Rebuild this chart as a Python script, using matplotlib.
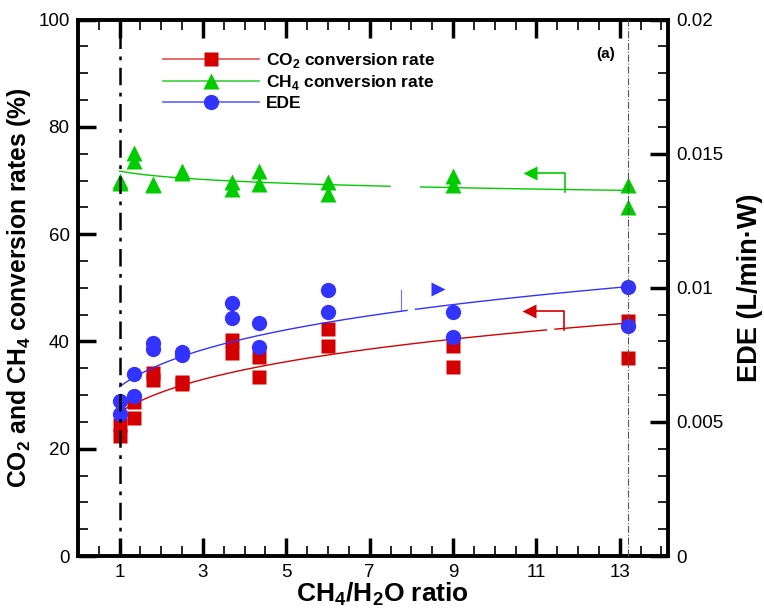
import numpy as np
import matplotlib
matplotlib.use("Agg")
import matplotlib.pyplot as plt
from matplotlib.lines import Line2D
from matplotlib.ticker import MultipleLocator, FixedLocator, FixedFormatter

plt.rcParams['font.family'] = ['Liberation Sans', 'DejaVu Sans']
plt.rcParams['mathtext.fontset'] = 'custom'
plt.rcParams['mathtext.rm'] = 'Liberation Sans'
plt.rcParams['mathtext.bf'] = 'Liberation Sans:bold'

# CH4/H2O ratio of each run (two runs per ratio)
ratio = np.array([1, 1, 1.35, 1.35, 1.8, 1.8, 2.5, 2.5, 3.7, 3.7,
                  4.35, 4.35, 6, 6, 9, 9, 13.2, 13.2])
# conversion rates (%)
co2_conv = np.array([24.5, 22.4, 28.8, 25.8, 34.1, 32.8, 32.4, 32.0, 40.3, 37.9,
                     37.1, 33.4, 42.4, 39.1, 39.1, 35.2, 43.9, 37.0])
ch4_conv = np.array([69.9, 69.5, 75.2, 73.7, 69.4, 69.1, 71.7, 71.4, 69.8, 68.4,
                     71.8, 69.3, 69.7, 67.5, 70.9, 69.1, 69.1, 65.1])
# energy efficiency (L/min.W)
ede = np.array([0.00578, 0.0053, 0.00678, 0.00598, 0.00796, 0.0077, 0.0076, 0.00748,
                0.00942, 0.00888, 0.00868, 0.00778, 0.0099, 0.00908, 0.0091, 0.00818,
                0.01002, 0.00858])

RED = '#d40000'
GREEN = '#00cc00'
BLUE = '#3333ff'


def power_fit(x, y):
    # y = a * x^b, fitted in log-log space
    b, ln_a = np.polyfit(np.log(x), np.log(y), 1)
    return np.exp(ln_a), b


def fit_curve(x, y, gap):
    a, b = power_fit(x, y)
    xs = np.linspace(x.min(), x.max(), 300)
    ys = a * xs ** b
    ys[(xs > gap[0]) & (xs < gap[1])] = np.nan
    return xs, ys


fig, ax = plt.subplots(figsize=(7.64, 6.12), dpi=100)
fig.subplots_adjust(left=0.102, right=0.874, bottom=0.0915, top=0.968)
ax2 = ax.twinx()

# trend lines
xs, ys = fit_curve(ratio, co2_conv, (11.27, 11.44))
ax.plot(xs, ys, color=RED, lw=1.0, zorder=2)
xs, ys = fit_curve(ratio, ch4_conv, (7.52, 8.2))
ax.plot(xs, ys, color=GREEN, lw=1.0, zorder=2)
xs, ys = fit_curve(ratio, ede, (7.91, 8.08))
ax2.plot(xs, ys, color=BLUE, lw=1.0, zorder=2)

# measured points
ax.plot(ratio, co2_conv, 's', color=RED, ms=9.5, mec='none', zorder=3)
ax.plot(ratio, ch4_conv, '^', color=GREEN, ms=11, mec='none', zorder=3)
ax2.plot(ratio, ede, 'o', color=BLUE, ms=11, mec='none', zorder=3)

# arrows pointing each curve to its axis
ax.plot([11.68, 11.68, 10.99], [67.9, 71.4, 71.4], color=GREEN, lw=1.2)
ax.plot([10.85], [71.4], '<', color=GREEN, ms=10, mec='none')
ax.plot([11.66, 11.66, 10.96], [42.1, 45.7, 45.7], color=RED, lw=1.2)
ax.plot([10.81], [45.7], '<', color=RED, ms=10, mec='none')
ax2.plot([7.74, 7.74], [0.00914, 0.00992], color=BLUE, lw=0.8, alpha=0.7)
ax2.plot([8.65], [0.00994], '>', color=BLUE, ms=10, mec='none')

# reference lines at the lowest and highest ratios
ax2.axvline(1, color='black', lw=1.8, ls=(0, (7, 3, 1.5, 3)), zorder=5)
ax2.axvline(13.2, color='#555555', lw=0.8, ls='-.', zorder=5)

ax.set_xlim(0, 14.15)
ax.set_ylim(0, 100)
ax2.set_ylim(0, 0.02)

ax.xaxis.set_major_locator(FixedLocator([1, 3, 5, 7, 9, 11, 13]))
ax.xaxis.set_minor_locator(MultipleLocator(0.5))
ax.yaxis.set_major_locator(MultipleLocator(20))
ax.yaxis.set_minor_locator(MultipleLocator(5))
ax2.yaxis.set_major_locator(FixedLocator([0, 0.005, 0.01, 0.015, 0.02]))
ax2.yaxis.set_major_formatter(FixedFormatter(['0', '0.005', '0.01', '0.015', '0.02']))
ax2.yaxis.set_minor_locator(MultipleLocator(0.001))

ax.tick_params(which='both', direction='in', top=True, right=False, labelsize=13.5)
ax.tick_params(which='major', length=13, width=2.5, pad=6)
ax.tick_params(which='minor', length=7, width=1.2)
ax2.tick_params(which='both', direction='in', labelsize=13.5)
ax2.tick_params(which='major', length=13, width=2.5, pad=6)
ax2.tick_params(which='minor', length=7, width=1.2)
for sp in ax2.spines.values():
    sp.set_linewidth(2.8)

ax.set_xlabel('CH$_\\mathbf{4}$/H$_\\mathbf{2}$O ratio', fontsize=19, fontweight='bold')
ax.xaxis.set_label_coords(0.517, -0.046)
ax.set_ylabel('CO$_\\mathbf{2}$ and CH$_\\mathbf{4}$ conversion rates (%)', fontsize=17.7,
              fontweight='bold', labelpad=4)
ax2.set_ylabel('EDE (L/min\u00b7W)', fontsize=19.5, fontweight='bold', labelpad=10)

ax.text(0.895, 0.935, '(a)', transform=ax.transAxes, fontsize=11, fontweight='bold',
        ha='center', va='center')

handles = [
    Line2D([], [], color='#e05050', lw=1.2, marker='s', ms=9.5, mfc=RED, mec='none'),
    Line2D([], [], color='#40d040', lw=1.2, marker='^', ms=11, mfc=GREEN, mec='none'),
    Line2D([], [], color='#6060ff', lw=1.2, marker='o', ms=11, mfc=BLUE, mec='none'),
]
labels = ['CO$_\\mathbf{2}$ conversion rate', 'CH$_\\mathbf{4}$ conversion rate', 'EDE']
leg = ax2.legend(handles, labels, loc='upper left', bbox_to_anchor=(0.133, 0.955),
                 frameon=False, handlelength=5.5, handletextpad=0.4, labelspacing=0.2,
                 prop={'size': 12.5, 'weight': 'bold'}, borderaxespad=0)

fig.savefig('out.png', dpi=100)
